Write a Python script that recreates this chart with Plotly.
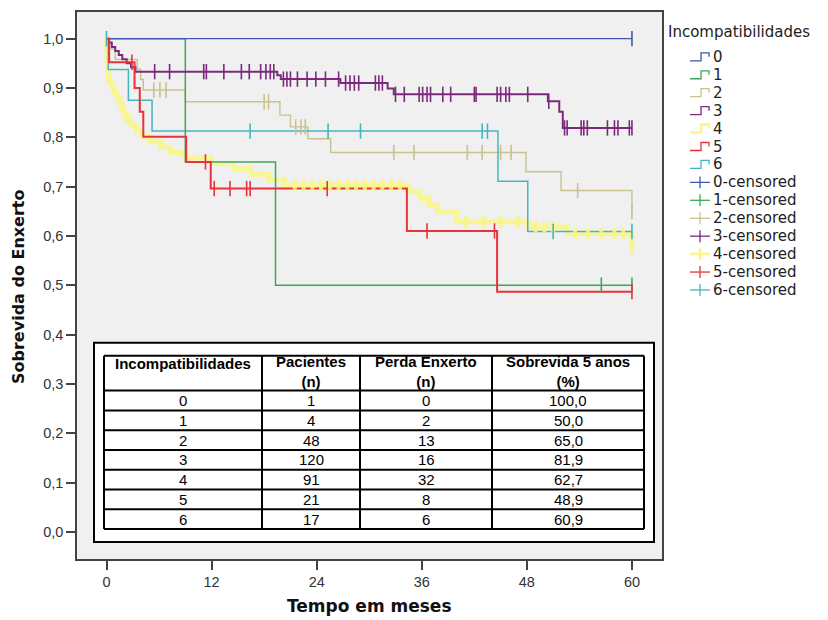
import plotly.graph_objects as go

# ---------------- data ----------------
groups = ["0", "1", "2", "3", "4", "5", "6"]

# Kaplan-Meier step curves (time in months, survival after each time)
t0 = [0, 60]
s0 = [1.0, 1.0]
c0 = [60]

t1 = [0, 9.0, 19.3, 60]
s1 = [1.0, 0.75, 0.50, 0.50]
c1 = [56.5, 60]

t2 = [0, 0.3, 1.0, 3.5, 3.9, 4.2, 9.0, 19.8, 21.0, 23.0, 25.6, 47.9, 51.9, 60]
s2 = [1.0, 0.979, 0.958, 0.938, 0.917, 0.896, 0.872, 0.845, 0.821, 0.797, 0.769, 0.730, 0.692, 0.649]
c2 = [5.4, 6.1, 6.8, 18.0, 18.5, 21.6, 22.2, 22.7, 32.8, 35.1, 41.2, 42.9, 45.0, 46.2, 53.8, 60]

t3 = [0, 0.3, 0.6, 1.0, 1.4, 1.8, 2.3, 2.8, 3.3, 19.5, 19.9, 26.7, 32.1, 32.8, 50.4, 51.7, 52.1, 60]
s3 = [1.0, 0.992, 0.983, 0.975, 0.967, 0.958, 0.950, 0.942, 0.933, 0.926, 0.918, 0.910, 0.899, 0.887, 0.873, 0.852, 0.819, 0.819]
c3 = [5.5, 7.2, 11.1, 11.4, 13.4, 15.4, 16.3, 17.6, 18.2, 18.7, 19.1, 20.2, 20.6, 21.0, 21.8,
      22.9, 23.9, 25.0, 26.5, 27.3, 27.8, 28.3, 28.8, 30.7, 31.1, 31.5, 33.0, 34.0, 35.7, 36.1,
      36.6, 37.0, 38.4, 39.3, 42.0, 42.2, 44.6, 45.0, 45.6, 46.0, 48.1, 50.5, 52.3, 52.6, 54.2,
      54.5, 54.9, 57.2, 58.0, 58.4, 59.7, 60]

t4 = [0, 0.02, 0.04, 0.06, 0.08, 0.1, 0.15, 0.2, 0.3, 0.6, 0.9, 1.2, 1.5, 1.8, 2.0, 2.3, 2.8,
      3.4, 4.0, 5.0, 6.2, 7.3, 9.0, 12.0, 14.5, 16.5, 18.5, 20.3, 34.5, 35.8, 36.8, 37.8, 40.0,
      48.2, 52.6, 60]
s4 = [1.0, 0.989, 0.978, 0.967, 0.956, 0.945, 0.934, 0.923, 0.912, 0.901, 0.890, 0.879, 0.868,
      0.857, 0.846, 0.835, 0.824, 0.813, 0.802, 0.791, 0.780, 0.769, 0.758, 0.747, 0.736, 0.725,
      0.714, 0.703, 0.690, 0.676, 0.662, 0.649, 0.629, 0.618, 0.605, 0.575]
c4 = [21.5, 22.5, 23.5, 24.5, 25.5, 26.5, 27.5, 28.5, 29.5, 30.5, 31.5, 32.5, 33.5, 41.0, 43.0,
      45.0, 47.0, 49.0, 50.0, 51.0, 53.5, 55.0, 56.5, 58.0, 59.0, 60]

t5 = [0, 0.3, 3.2, 3.8, 4.2, 9.1, 11.9, 34.3, 44.6, 60]
s5 = [1.0, 0.952, 0.900, 0.852, 0.801, 0.750, 0.696, 0.610, 0.487, 0.487]
c5 = [2.9, 11.3, 12.3, 14.1, 16.0, 16.4, 25.2, 36.6, 44.3, 60]

t6 = [0, 0.2, 2.5, 5.2, 44.7, 48.1, 60]
s6 = [1.0, 0.9375, 0.875, 0.8125, 0.711, 0.609, 0.609]
c6 = [0, 16.4, 25.3, 29.0, 42.9, 43.5, 51.0, 60]

x_ticks = [0, 12, 24, 36, 48, 60]
x_ticklabels = ["0", "12", "24", "36", "48", "60"]
y_ticks = [0.0, 0.1, 0.2, 0.3, 0.4, 0.5, 0.6, 0.7, 0.8, 0.9, 1.0]
y_ticklabels = ["0,0", "0,1", "0,2", "0,3", "0,4", "0,5", "0,6", "0,7", "0,8", "0,9", "1,0"]

# summary table
table_header = ["Incompatibilidades", "Pacientes<br>(n)", "Perda Enxerto<br>(n)", "Sobrevida 5 anos<br>(%)"]
tab_incompat = ["0", "1", "2", "3", "4", "5", "6"]
tab_pacientes = ["1", "4", "48", "120", "91", "21", "17"]
tab_perda = ["0", "2", "13", "16", "32", "8", "6"]
tab_sobrevida = ["100,0", "50,0", "65,0", "81,9", "62,7", "48,9", "60,9"]

legend_title = "Incompatibilidades"
x_title = "Tempo em meses"
y_title = "Sobrevida do Enxerto"

# ---------------- styles ----------------
colors = {"0": "#3E58AC", "1": "#3DA85A", "2": "#C9C28E", "3": "#7C287D",
          "4": "#F9F68A", "5": "#E8333A", "6": "#45B5BE"}
widths = {"0": 1.4, "1": 1.5, "2": 1.4, "3": 2.0, "4": 5.0, "5": 2.0, "6": 1.5}
curves = {"0": (t0, s0, c0), "1": (t1, s1, c1), "2": (t2, s2, c2), "3": (t3, s3, c3),
          "4": (t4, s4, c4), "5": (t5, s5, c5), "6": (t6, s6, c6)}
draw_order = ["4", "2", "6", "1", "0", "3", "5"]

# page is offset by the 8px body margin; figure sized to fill the rest of the window
W, H = 820, 612
PL, PR, PT, PB = 77, 662, 10, 559  # plot area in reference (window) pixels
OFF = 8


def px(x):
    return (x - PL) / (PR - PL)


def py(y):
    return (PB - y) / (PB - PT)


def surv_at(ts, ss, c):
    v = ss[0]
    for t, s in zip(ts, ss):
        if t <= c + 1e-9:
            v = s
        else:
            break
    return v


fig = go.Figure()
for g in draw_order:
    ts, ss, cs = curves[g]
    fig.add_trace(go.Scatter(
        x=ts, y=ss, mode="lines", line=dict(shape="hv", color=colors[g], width=widths[g]),
        opacity=0.9 if g == "4" else 1.0, name=g, showlegend=False, hoverinfo="skip"))
for g in draw_order:
    ts, ss, cs = curves[g]
    cy = [surv_at(ts, ss, c) for c in cs]
    fig.add_trace(go.Scatter(
        x=cs, y=cy, mode="markers",
        marker=dict(symbol="line-ns-open", size=11 if g != "4" else 8, color=colors[g],
                    line=dict(color=colors[g], width=1.6 if g != "4" else 4)),
        opacity=0.9 if g == "4" else 1.0,
        name=g + "-censored", showlegend=False, hoverinfo="skip"))

shapes = []
annotations = []
TXT = "Liberation Sans, Arial"

# ---- table box ----
shapes.append(dict(type="rect", xref="paper", yref="paper", x0=px(94), x1=px(654), y0=py(542), y1=py(342),
                   fillcolor="white", line=dict(color="black", width=2), layer="above"))
col_x = [104, 262, 360, 492, 644]
head_top, head_bot, row_h = 355, 390, (529 - 390) / 7
row_y = [head_top, head_bot] + [head_bot + row_h * (i + 1) for i in range(7)]
for yv in row_y:
    shapes.append(dict(type="line", xref="paper", yref="paper", x0=px(col_x[0]), x1=px(col_x[-1]),
                       y0=py(yv), y1=py(yv), line=dict(color="black", width=2), layer="above"))
for xv in col_x:
    shapes.append(dict(type="line", xref="paper", yref="paper", x0=px(xv), x1=px(xv),
                       y0=py(head_top), y1=py(row_y[-1]), line=dict(color="black", width=2), layer="above"))
for j, h in enumerate(table_header):
    two = "<br>" in h
    annotations.append(dict(xref="paper", yref="paper", x=px((col_x[j] + col_x[j + 1]) / 2),
                            y=py(371 if two else 363), text="<b>" + h.replace("<br>", "</b><br><b>") + "</b>",
                            showarrow=False, xanchor="center", yanchor="middle",
                            font=dict(family=TXT, size=15, color="black")))
cols = [tab_incompat, tab_pacientes, tab_perda, tab_sobrevida]
for j, col in enumerate(cols):
    for i, val in enumerate(col):
        annotations.append(dict(xref="paper", yref="paper", x=px((col_x[j] + col_x[j + 1]) / 2),
                                y=py(head_bot + row_h * (i + 0.5)), text=val, showarrow=False,
                                xanchor="center", yanchor="middle",
                                font=dict(family=TXT, size=15, color="black")))

# ---- legend (manual) ----
LEGF = "DejaVu Sans"
annotations.append(dict(xref="paper", yref="paper", x=px(666), y=py(30), text=legend_title, showarrow=False,
                        xanchor="left", yanchor="middle",
                        font=dict(family=LEGF, size=15, color="#222")))
leg_y0, leg_dy = 55, 18.0
names = groups + [g + "-censored" for g in groups]
for i, nm in enumerate(names):
    yc = leg_y0 + leg_dy * i
    g = nm.split("-")[0]
    col = colors[g]
    lw = 1.3 if g != "4" else 2.5
    if "-" not in nm:
        path = "M {} {} L {} {} L {} {} L {} {} L {} {}".format(
            px(690), py(yc + 4), px(701), py(yc + 4), px(701), py(yc - 4), px(709), py(yc - 4), px(709), py(yc))
        shapes.append(dict(type="path", xref="paper", yref="paper", path=path, line=dict(color=col, width=lw)))
    else:
        shapes.append(dict(type="line", xref="paper", yref="paper", x0=px(690), x1=px(710),
                           y0=py(yc), y1=py(yc), line=dict(color=col, width=lw)))
        shapes.append(dict(type="line", xref="paper", yref="paper", x0=px(700), x1=px(700),
                           y0=py(yc - 6), y1=py(yc + 6), line=dict(color=col, width=lw)))
    annotations.append(dict(xref="paper", yref="paper", x=px(711), y=py(yc), text=nm, showarrow=False,
                            xanchor="left", yanchor="middle",
                            font=dict(family=LEGF, size=15, color="#222")))

# ---- axis titles ----
annotations.append(dict(xref="paper", yref="paper", x=px(369), y=py(606), text="<b>" + x_title + "</b>",
                        showarrow=False, xanchor="center", yanchor="middle",
                        font=dict(family="DejaVu Sans", size=17, color="#111")))
annotations.append(dict(xref="paper", yref="paper", x=px(19), y=py(286), text="<b>" + y_title + "</b>",
                        showarrow=False, xanchor="center", yanchor="middle", textangle=-90,
                        font=dict(family="DejaVu Sans", size=16, color="#111")))

fig.update_layout(
    width=W, height=H,
    margin=dict(l=PL - OFF, r=W + OFF - PR, t=PT - OFF, b=H + OFF - PB, pad=0),
    paper_bgcolor="white", plot_bgcolor="#F0F0F0",
    showlegend=False,
    shapes=shapes, annotations=annotations,
    xaxis=dict(range=[-3.37, 63.43], tickvals=x_ticks, ticktext=x_ticklabels, showgrid=False,
               zeroline=False, showline=True, linecolor="#444", linewidth=1.5, mirror=True,
               ticks="outside", ticklen=9, tickcolor="#444", tickwidth=1.5,
               tickfont=dict(family=TXT, size=14.5, color="#333")),
    yaxis=dict(range=[-0.055, 1.054], tickvals=y_ticks, ticktext=y_ticklabels, showgrid=False,
               zeroline=False, showline=True, linecolor="#444", linewidth=1.5, mirror=True,
               ticks="outside", ticklen=9, tickcolor="#444", tickwidth=1.5,
               tickfont=dict(family=TXT, size=14.5, color="#333")),
)

fig.write_html("out.html")
